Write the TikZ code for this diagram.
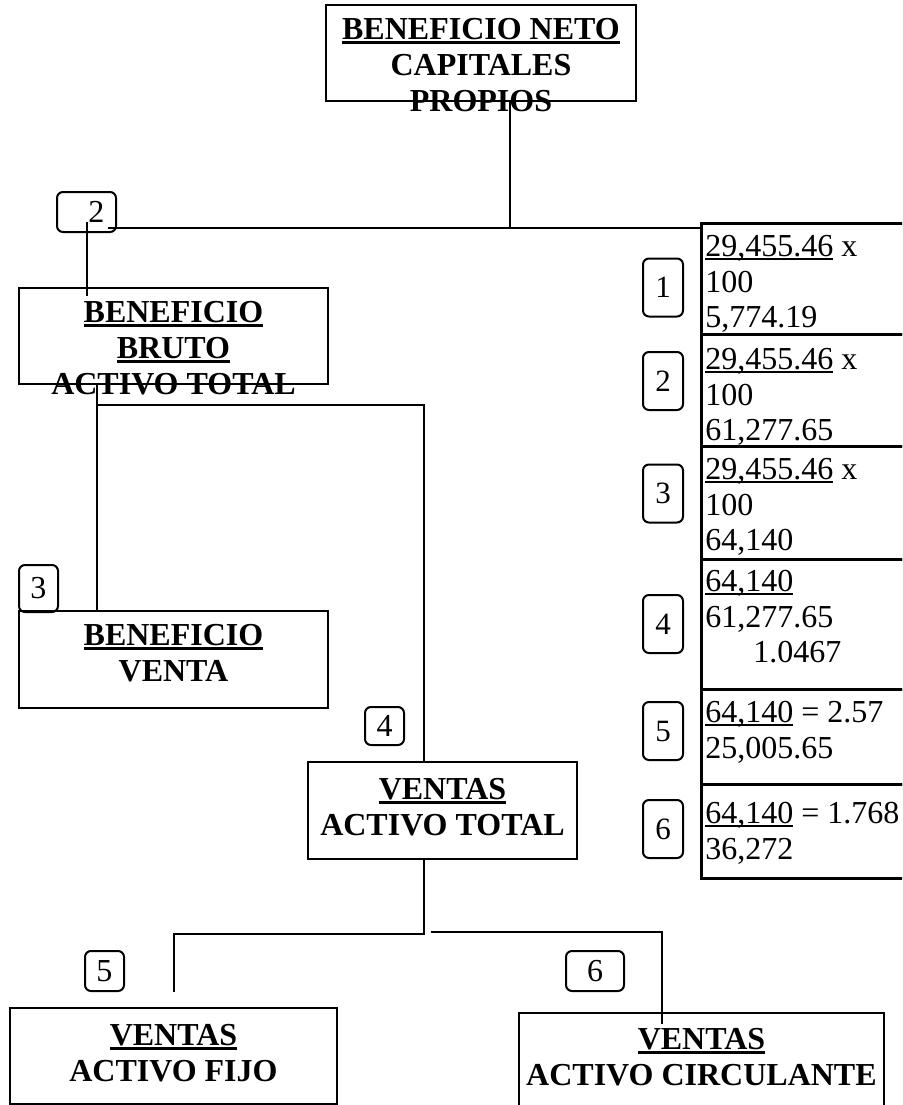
\documentclass[tikz,border=0pt]{standalone}
\usepackage{fontspec}
\setmainfont{Liberation Serif}
\usepackage{xcolor}
\usepackage{tikz}
\usetikzlibrary{positioning, calc}
\definecolor{ink}{HTML}{000000}
% underline with a heavier rule, as in the scanned sheet
\newcommand{\ulbold}[1]{\setbox0=\hbox{#1}\leavevmode\rlap{\rule[-2pt]{\wd0}{1.5pt}}\box0\relax}
\newcommand{\ulthin}[1]{\setbox0=\hbox{#1}\leavevmode\rlap{\rule[-1.9pt]{\wd0}{1.1pt}}\box0\relax}
\tikzset{
  ratio/.style={rectangle, draw=ink, line width=1.3pt, inner sep=0pt},
  heading/.style={align=center, inner sep=0pt, text=ink,
    font=\fontsize{16}{18}\selectfont\bfseries},
  tag/.style={rectangle, rounded corners=3pt, draw=ink, line width=1pt,
    inner sep=0pt, font=\fontsize{16}{18}\selectfont},
  smalltag/.style={tag, minimum width=20pt, minimum height=29pt,
    font=\fontsize{15.5}{17}\selectfont},
  cell/.style={rectangle, draw=ink, line width=1.3pt, anchor=north west,
    minimum width=110pt, inner sep=0pt},
  figure/.style={align=left, anchor=north west, inner sep=0pt, text=ink,
    font=\fontsize{16}{17.8}\selectfont},
  ln/.style={draw=ink, line width=1pt},
}

\begin{document}
\begin{tikzpicture}[x=0.5pt, y=-0.5pt]
  \useasboundingbox (0,0) rectangle (902,1105);
  \clip (0,0) rectangle (902,1105);

  % ratio boxes of the tree
  \node[ratio, minimum width=155pt, minimum height=48pt] (neto) at (481,53) {};
  \node[ratio, minimum width=154.5pt, minimum height=48pt] (bruto) at (173.5,336) {};
  \node[ratio, minimum width=154.5pt, minimum height=48.5pt] (venta) at (173.5,659.5) {};
  \node[ratio, minimum width=134.5pt, minimum height=48.5pt] (vat) at (442.5,810.5) {};
  \node[ratio, minimum width=163.5pt, minimum height=48pt] (fijo) at (173.5,1056) {};
  \node[ratio, minimum width=182.5pt, minimum height=53.5pt] (circ) at (701.5,1066.5) {};

  \node[heading, anchor=north] (netotxt) at (481,18) {\ulbold{BENEFICIO NETO}\\CAPITALES\\PROPIOS};
  \node[heading, anchor=north] (brutotxt) at (173.5,301) {\ulbold{BENEFICIO}\\\ulbold{BRUTO}\\ACTIVO TOTAL};
  \node[heading, anchor=north] (ventatxt) at (173.5,624) {\ulbold{BENEFICIO}\\VENTA};
  \node[heading, anchor=north] (vattxt) at (442.5,778) {\ulbold{VENTAS}\\ACTIVO TOTAL};
  \node[heading, anchor=north] (fijotxt) at (173.5,1024) {\ulbold{VENTAS}\\ACTIVO FIJO};
  \node[heading, anchor=north] (circtxt) at (701.5,1028) {\ulbold{VENTAS}\\ACTIVO CIRCULANTE};

  % numbered tags in the tree
  \node[tag, minimum width=29.5pt, minimum height=20pt] (n2) at (86.5,212) {\hspace*{10pt}2};
  \node[tag, minimum width=19.5pt, minimum height=23.5pt] (n3) at (38.5,588.5) {3};
  \node[tag, minimum width=19.5pt, minimum height=19pt] (n4) at (384.5,726) {4};
  \node[tag, minimum width=19.5pt, minimum height=20pt] (n5) at (104.5,971) {5};
  \node[tag, minimum width=29pt, minimum height=20pt] (n6) at (595,971) {6};

  % column of worked figures
  \node[cell, minimum height=55.5pt] (r1) at (700,222) {};
  \node[cell, minimum height=56pt] (r2) at (700,333) {};
  \node[cell, minimum height=56.5pt] (r3) at (700,445) {};
  \node[cell, minimum height=65pt] (r4) at (700,558) {};
  \node[cell, minimum height=47.5pt] (r5) at (700,688) {};
  \node[cell, minimum height=47pt] (r6) at (700,783) {};

  \node[figure] (v1) at (705,235) {\ulthin{29,455.46} x\\100\\5,774.19};
  \node[figure] (v2) at (705,348) {\ulthin{29,455.46} x\\100\\61,277.65};
  \node[figure] (v3) at (705,458) {\ulthin{29,455.46} x\\100\\64,140};
  \node[figure] (v4) at (705,570) {\ulthin{64,140}\\61,277.65\\\hspace*{24pt}1.0467};
  \node[figure] (v5) at (705,701) {\ulthin{64,140} = 2.57\\25,005.65};
  \node[figure] (v6) at (705,802) {\ulthin{64,140} = 1.768\\36,272};

  \node[smalltag] (k1) at (663,287.5) {1};
  \node[smalltag] (k2) at (663,381) {2};
  \node[smalltag] (k3) at (663,493.5) {3};
  \node[smalltag] (k4) at (663,624) {4};
  \node[smalltag] (k5) at (663,731) {5};
  \node[smalltag] (k6) at (663,829) {6};

  % connectors
  \coordinate (jtop) at (510,228);
  \coordinate (drop) at (87,222);
  \coordinate (split1) at (97,405);
  \coordinate (spine) at (424,405);
  \coordinate (split2) at (424,934);
  \coordinate (fijoend) at (174,992);
  \coordinate (circstart) at (431,932);
  \coordinate (circbend) at (662,932);

  \draw[ln] (neto.south -| jtop) -- (jtop);
  \draw[ln] ($(n2.east |- jtop)+(-9,0)$) -- (r1.west |- jtop);
  \draw[ln] (drop) -- ($(bruto.north -| drop)+(0,9)$);
  \draw[ln] (bruto.south -| split1) -- (venta.north -| split1);
  \draw[ln] (split1) -- (spine) -- (vat.north -| spine);
  \draw[ln] (vat.south -| split2) -- (split2) -| (fijoend);
  \draw[ln] (circstart) -- (circbend) -- ($(circ.north -| circbend)+(0,12)$);
\end{tikzpicture}
\end{document}
